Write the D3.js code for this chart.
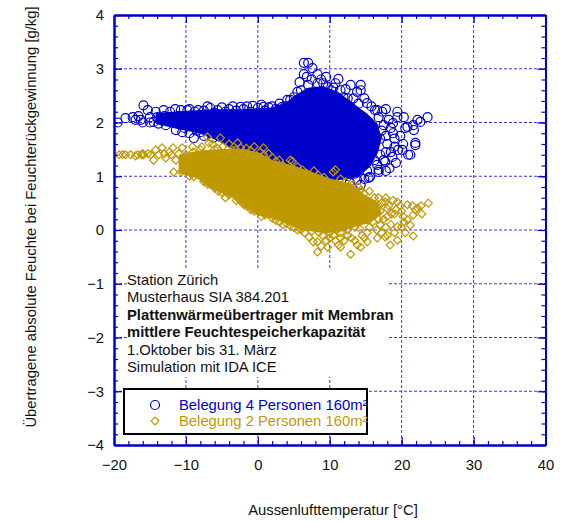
<!DOCTYPE html>
<html>
<head>
<meta charset="utf-8">
<script src="https://cdn.jsdelivr.net/npm/d3@7"></script>
<style>
  body { margin: 0; background: #fff; }
  svg { font-family: "Liberation Sans", Arial, sans-serif; }
</style>
</head>
<body>
<div class="chart"></div>
<script>
// axis ticks
var xTicks = [-20, -10, 0, 10, 20, 30, 40];
var yTicks = [-4, -3, -2, -1, 0, 1, 2, 3, 4];

// dense (solid) part of each point cloud
var blueCore = [[-14, 2.15], [-11, 2.18], [-6, 2.22], [-2, 2.22], [2, 2.25], [4, 2.35], [5.5, 2.5], [7, 2.62],
  [9, 2.65], [11, 2.55], [13, 2.35], [15, 2.15], [16.5, 1.95], [17, 1.7], [16.5, 1.45], [15.5, 1.2], [14, 1.02],
  [11, 0.95], [8, 1.02], [5, 1.12], [2, 1.25], [0, 1.4], [-3, 1.5], [-5, 1.65], [-7, 1.78], [-9, 1.85],
  [-11, 1.9], [-14, 2.0]];

var goldCore = [[-10.8, 1.38], [-8, 1.45], [-5, 1.48], [-2, 1.48], [0, 1.42], [2, 1.27], [5, 1.17], [7.3, 1.06],
  [10, 0.93], [13, 0.84], [14.7, 0.64], [16.5, 0.5], [17, 0.32], [15.5, 0.15], [14.3, 0.12], [11.5, 0.0],
  [10, -0.02], [8.5, -0.02], [6, 0.03], [3, 0.2], [0, 0.3], [-1.4, 0.41], [-3.4, 0.62], [-6.6, 0.8],
  [-8.4, 0.99], [-10.8, 1.08]];

// single readable markers
var bluePoints = [
  [-19.5, 2.0], [-18.4, 2.08], [-17.4, 2.1], [-16.6, 2.12], [-16.3, 2.05], [-15.9, 2.32], [-15.3, 2.23],
  [-14.5, 2.01], [-14.0, 2.1], [-13.5, 2.05], [-13.1, 2.23], [-12.5, 2.1], [-12.0, 2.0], [-11.4, 1.86],
  [-11.0, 2.12], [-10.7, 2.23], [-10.5, 1.82], [-9.8, 2.23], [-9.0, 1.95], [-8.9, 1.71], [-8.3, 2.23],
  [-8.0, 1.82], [-6.6, 2.27], [-6.6, 1.8], [-5.6, 2.23], [-5.2, 1.73], [-4, 2.25], [-2.4, 2.29], [-0.7, 2.31],
  [0.8, 2.29], [1.5, 2.28], [3.4, 2.29], [4.1, 2.42], [4.5, 2.42], [5, 2.47], [5.5, 2.57],
  [6.4, 3.11], [7.0, 3.11], [7.6, 3.01], [6.4, 2.9], [8.3, 2.9], [7.0, 2.7], [8.3, 2.73], [9.1, 2.73],
  [9.7, 2.66], [10.8, 2.73], [11.2, 2.81], [11.9, 2.47], [12.9, 2.7], [14.3, 2.7], [14.3, 2.6], [13.8, 2.57],
  [15.2, 2.36], [16.3, 2.23], [16.6, 2.23], [17.3, 2.2], [18.8, 1.99], [19.4, 2.2], [19.4, 2.1], [20.3, 2.1],
  [20.5, 1.9], [20.8, 1.92], [21.6, 1.95], [21.7, 1.86], [22.2, 2.05], [22.6, 2.01], [23.6, 2.1], [18.8, 1.8],
  [21.9, 1.62], [21.9, 1.58], [20.1, 1.49], [19.5, 1.49], [20.9, 1.4], [21.2, 1.4], [18.7, 1.36], [17.5, 1.3],
  [17.7, 1.27], [16.6, 1.21], [16.8, 1.12], [16.8, 1.08], [15.6, 0.99], [15.4, 0.97], [14.3, 0.84], [13.8, 0.93],
  [17, 1.7], [18, 1.6], [17.5, 1.95], [16, 1.9], [15, 1.4], [16, 1.5], [14.5, 1.2], [12.5, 1.0], [19, 1.7],
  [18.2, 2.05], [17.8, 1.45], [18.3, 1.15], [16.2, 1.75], [15.5, 2.0], [12.5, 2.45], [10.2, 2.6], [6, 2.6],
  [-9.5, 2.25], [-8.8, 2.2], [-7.5, 2.22], [-7, 2.3], [-6, 2.18], [-5, 2.28], [-4.5, 2.2], [-3.5, 2.3],
  [-3, 2.22], [-2, 2.25], [-1.5, 2.3], [-1, 2.2], [0, 2.27], [0.5, 2.33], [1, 2.22], [2, 2.3], [2.5, 2.25],
  [3, 2.35], [3.8, 2.3], [-17, 2.05], [-16, 2.0], [-15, 2.1], [-15, 2.0], [-14.2, 2.2], [-13.8, 1.98],
  [-13, 2.12], [-12.8, 1.95], [-12.2, 2.2], [-11.8, 2.05], [-11.5, 2.25], [-10.2, 1.9], [-10, 2.1],
  [-9.5, 1.8], [-8.5, 1.85], [-7.5, 1.75], [-6.2, 1.72], [-5.8, 1.85], [5.8, 2.75], [6.8, 2.85], [7.5, 2.8],
  [8.8, 2.8], [9.5, 2.85], [10.5, 2.65], [11.5, 2.6], [12.2, 2.62], [13.3, 2.45], [14, 2.35], [14.8, 2.45],
  [15.8, 2.3], [16.8, 2.1], [17.8, 2.25], [17.2, 1.85], [17.8, 1.75], [18.5, 1.9], [19, 1.55], [19.8, 1.75],
  [20.2, 1.6], [18.5, 1.45], [19.2, 1.25], [17.8, 1.1], [17, 1.4], [16.2, 1.3], [15.2, 1.1], [14.8, 0.95],
  [13.5, 1.05], [12.8, 0.88], [12, 1.1], [11.2, 0.95], [10, 1.0], [9.2, 1.08]
];

var goldPoints = [
  [-19.3, 1.4], [-18.4, 1.4], [-17.7, 1.4], [-16.7, 1.4], [-15.9, 1.4], [-14.9, 1.4], [-14.2, 1.49],
  [-14.5, 1.3], [-13.3, 1.53], [-12.8, 1.34], [-11.8, 1.53], [-11.4, 1.3], [-10.5, 1.53], [-11.7, 1.08],
  [-9.1, 1.55], [-10.7, 1.08], [-8.9, 0.99], [-7, 1.73], [-5.2, 1.71], [-6.8, 1.62], [-4.9, 1.55],
  [-2.4, 1.53], [0.8, 1.53], [0.8, 1.4], [4.5, 1.3], [4.8, 1.28], [6.2, 1.12], [8.4, 1.02], [10.5, 1.08],
  [10.8, 1.12], [14.3, 0.74], [16.8, 0.6], [17.7, 0.52], [19.4, 0.52], [20.8, 0.47], [22.2, 0.41],
  [23.7, 0.5], [21.6, 0.28], [21.9, 0.37], [20.3, 0.15], [20.8, 0.19], [21.2, 0.09], [21.6, -0.11],
  [19.4, 0.06], [19.4, -0.19], [18.4, -0.28], [17.7, -0.13], [16.6, -0.15], [15.2, -0.22], [14.3, -0.32],
  [13.8, -0.28], [12.9, -0.45], [11.5, -0.32], [11.2, -0.28], [9.7, -0.32], [8.3, -0.41], [8.3, -0.22],
  [7.7, -0.22], [7.1, -0.13], [-4.5, 0.6], [-9.5, 1.0], [-7.5, 0.9], [-6, 0.78], [-5, 0.7], [-3, 0.55],
  [-2, 0.48], [-1, 0.38], [1, 0.28], [2, 0.22], [3, 0.15], [4, 0.12], [5, 0.05], [6, 0.0], [10, -0.05],
  [11, 0.0], [12, 0.05], [13, 0.1], [14, 0.15], [15, 0.25], [16, 0.3], [17, 0.35], [18, 0.4], [17.5, 0.2],
  [18.5, 0.1], [16.5, 0.0], [15.5, 0.05], [14.5, -0.1], [13, -0.15], [12, -0.2], [10, -0.15], [9, -0.1],
  [16, 0.45], [15, 0.55], [18, 0.25], [19, 0.3], [20, 0.35], [17, 0.1], [-9, 1.45], [-8, 1.5], [-6, 1.5],
  [-3, 1.5], [-1, 1.48], [2, 1.35], [3, 1.3], [-12, 1.4], [-13, 1.42], [-10, 1.4], [-16, 1.42], [-17, 1.38],
  [-18.8, 1.4], [-16.2, 1.4], [-15.3, 1.42], [-13.8, 1.4], [-12.3, 1.45], [-11.0, 1.42], [-10.2, 1.2],
  [-9.8, 1.12], [-7.8, 1.55], [-6.3, 1.6], [-5.6, 1.52], [-4, 1.6], [-3.5, 1.48], [-2.8, 1.62], [-1.6, 1.52],
  [-0.5, 1.55], [0.3, 1.45], [1.5, 1.42], [2.5, 1.28], [3.5, 1.2], [5.5, 1.18], [6.8, 1.05], [7.8, 1.1],
  [9.2, 0.98], [11.5, 0.95], [12.2, 0.9], [13.2, 0.85], [14, 0.8], [14.8, 0.68], [15.5, 0.72], [-7, 0.85],
  [-5.5, 0.72], [-4, 0.65], [-2.5, 0.55], [-1.7, 0.45], [-0.5, 0.35], [0.5, 0.25], [1.5, 0.3], [2.5, 0.18],
  [3.5, 0.1], [4.5, 0.08], [5.5, 0.0], [6.5, -0.05], [7.5, -0.02], [8.5, -0.05], [9.5, 0.0], [10.5, -0.1],
  [11.5, -0.05], [12.5, 0.0], [13.5, 0.05], [15.5, 0.4], [16.2, 0.6], [16.8, 0.45], [17.2, 0.5], [17.8, 0.6],
  [18.2, 0.45], [18.8, 0.55], [19.2, 0.38], [19.8, 0.45], [20.2, 0.25], [18.6, 0.3], [17.8, 0.05], [16.8, 0.2],
  [16, 0.15], [15.2, -0.05], [14.2, 0.02], [13.5, -0.2], [12.5, -0.1], [11.5, -0.15], [10.8, -0.2], [9.5, -0.2],
  [8.8, -0.3], [14.8, -0.15], [17.2, -0.05], [18, -0.1], [19, -0.05], [20, 0.05], [20.5, -0.05], [22.7, 0.45],
  [22.8, 0.3], [21.5, 0.45]
];

var seriesNames = ["Belegung 4 Personen 160m\u00b2", "Belegung 2 Personen 160m\u00b2"];
var noteLines = ["Station Z\u00fcrich", "Musterhaus SIA 384.201", "Plattenw\u00e4rme\u00fcbertrager mit Membran",
  "mittlere Feuchtespeicherkapazit\u00e4t", "1.Oktober bis 31. M\u00e4rz", "Simulation mit IDA ICE"];
var noteBold = [false, false, true, true, false, false];

var blue = "#0000cc";
var gold = "#bf9900";
var fontSize = 14.8;

var svgWidth = 566;
var svgHeight = 522;
var margin = { top: 15, right: 20.5, bottom: 77, left: 114 };

var svg = d3.select(".chart").append("svg")
  .attr("width", svgWidth)
  .attr("height", svgHeight);

var x = d3.scaleLinear().domain([-20, 40]).range([margin.left, svgWidth - margin.right]);
var y = d3.scaleLinear().domain([-4, 4]).range([svgHeight - margin.bottom, margin.top]);

svg.append("clipPath").attr("id", "plot")
  .append("rect")
  .attr("x", x(-20)).attr("y", y(4))
  .attr("width", x(40) - x(-20)).attr("height", y(-4) - y(4));

// dashed grid
var grid = svg.append("g").attr("stroke", "#3a3ad8").attr("stroke-width", 1).attr("stroke-dasharray", "3,2");
grid.selectAll(".gx").data(xTicks.slice(1, -1)).enter().append("line")
  .attr("x1", d => x(d)).attr("x2", d => x(d)).attr("y1", y(4)).attr("y2", y(-4));
grid.selectAll(".gy").data(yTicks.slice(1, -1)).enter().append("line")
  .attr("y1", d => y(d)).attr("y2", d => y(d)).attr("x1", x(-20)).attr("x2", x(40));

var lineGen = d3.line().x(d => x(d[0])).y(d => y(d[1]));
var plot = svg.append("g").attr("clip-path", "url(#plot)");

// blue series
plot.append("path").attr("d", lineGen(blueCore) + "Z")
  .attr("fill", blue).attr("stroke", blue).attr("stroke-width", 3).attr("stroke-linejoin", "round");
plot.selectAll(".bp").data(bluePoints).enter().append("circle")
  .attr("cx", d => x(d[0])).attr("cy", d => y(d[1])).attr("r", 4.5)
  .attr("fill", "none").attr("stroke", blue).attr("stroke-width", 1.2);

// gold series
var diamond = d3.symbol().type(d3.symbolDiamond2).size(40);
plot.append("path").attr("d", lineGen(goldCore) + "Z")
  .attr("fill", gold).attr("stroke", gold).attr("stroke-width", 3).attr("stroke-linejoin", "round");
plot.selectAll(".gp").data(goldPoints).enter().append("path")
  .attr("transform", d => `translate(${x(d[0])},${y(d[1])})`)
  .attr("d", diamond)
  .attr("fill", "none").attr("stroke", gold).attr("stroke-width", 1.2);

// axes: ticks inward on all four sides
function styleAxis(g) {
  g.selectAll("path").attr("stroke", blue).attr("stroke-width", 2);
  g.selectAll("line").attr("stroke", blue).attr("stroke-width", 1.2);
  g.selectAll("text").attr("fill", "#111").attr("font-size", fontSize).attr("font-family", "Liberation Sans, Arial, sans-serif");
}
var minorX = d3.range(-20, 41, 2);
var minorY = d3.range(-40, 41, 2).map(d => d / 10);

svg.append("g").attr("transform", `translate(0,${y(-4)})`)
  .call(d3.axisBottom(x).tickValues(minorX).tickSize(-4).tickSizeOuter(0).tickFormat(""))
  .call(styleAxis);
svg.append("g").attr("transform", `translate(0,${y(-4)})`)
  .call(d3.axisBottom(x).tickValues(xTicks).tickSize(-8).tickSizeOuter(0).tickPadding(14).tickFormat(d3.format("d")))
  .call(styleAxis);
svg.append("g").attr("transform", `translate(0,${y(4)})`)
  .call(d3.axisTop(x).tickValues(minorX).tickSize(-4).tickSizeOuter(0).tickFormat(""))
  .call(styleAxis);
svg.append("g").attr("transform", `translate(0,${y(4)})`)
  .call(d3.axisTop(x).tickValues(xTicks).tickSize(-8).tickSizeOuter(0).tickFormat(""))
  .call(styleAxis);
svg.append("g").attr("transform", `translate(${x(-20)},0)`)
  .call(d3.axisLeft(y).tickValues(minorY).tickSize(-4).tickSizeOuter(0).tickFormat(""))
  .call(styleAxis);
svg.append("g").attr("transform", `translate(${x(-20)},0)`)
  .call(d3.axisLeft(y).tickValues(yTicks).tickSize(-8).tickSizeOuter(0).tickPadding(10).tickFormat(d3.format("d")))
  .call(styleAxis);
svg.append("g").attr("transform", `translate(${x(40)},0)`)
  .call(d3.axisRight(y).tickValues(minorY).tickSize(-4).tickSizeOuter(0).tickFormat(""))
  .call(styleAxis);
svg.append("g").attr("transform", `translate(${x(40)},0)`)
  .call(d3.axisRight(y).tickValues(yTicks).tickSize(-8).tickSizeOuter(0).tickFormat(""))
  .call(styleAxis);

// axis titles
svg.append("text")
  .attr("x", 333).attr("y", 515)
  .attr("text-anchor", "middle").attr("font-size", fontSize).attr("fill", "#111")
  .text("Aussenlufttemperatur [\u00b0C]");
svg.append("text")
  .attr("transform", "translate(36,217) rotate(-90)")
  .attr("text-anchor", "middle").attr("font-size", fontSize).attr("fill", "#111")
  .text("\u00dcbertragene absolute Feuchte bei Feuchter\u00fcckgewinnung [g/kg]");

// annotation block (white background hides the grid)
svg.append("rect").attr("x", 127).attr("y", 269).attr("width", 261).attr("height", 108).attr("fill", "#fff");
svg.append("g").selectAll("text").data(noteLines).enter().append("text")
  .attr("x", 127).attr("y", (d, i) => 285 + i * 17.4)
  .attr("font-size", fontSize).attr("fill", "#111")
  .attr("font-weight", (d, i) => noteBold[i] ? "bold" : "normal")
  .text(d => d);

// legend
var legend = svg.append("g");
legend.append("rect").attr("x", 124).attr("y", 389).attr("width", 243).attr("height", 45)
  .attr("fill", "#fff").attr("stroke", "#000").attr("stroke-width", 2);
legend.append("circle").attr("cx", 155).attr("cy", 405).attr("r", 4.5)
  .attr("fill", "none").attr("stroke", blue).attr("stroke-width", 1.2);
legend.append("path").attr("transform", "translate(155,421)").attr("d", diamond)
  .attr("fill", "none").attr("stroke", gold).attr("stroke-width", 1.2);
legend.selectAll(".lt").data(seriesNames).enter().append("text")
  .attr("x", 179).attr("y", (d, i) => 410 + i * 16)
  .attr("font-size", fontSize).attr("fill", (d, i) => i === 0 ? blue : gold)
  .text(d => d);
</script>
</body>
</html>
